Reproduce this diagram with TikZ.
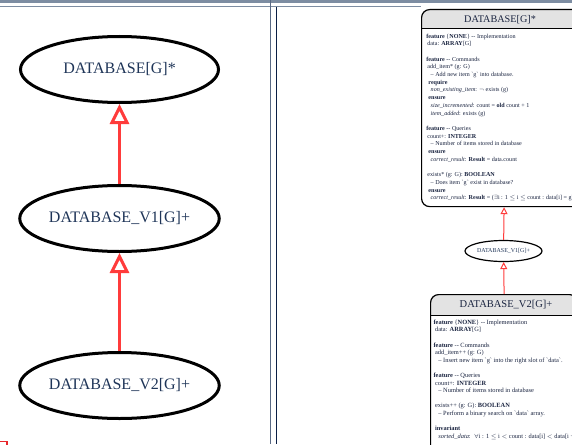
\documentclass[tikz,border=0pt]{standalone}
\usepackage{fontspec}
\setmainfont{Liberation Serif}
\usetikzlibrary{arrows.meta,shapes.geometric}

\definecolor{navy}{HTML}{1F3558}
\definecolor{ink}{HTML}{1A2440}
\definecolor{bar}{HTML}{7D8DA2}
\definecolor{ruleA}{HTML}{5A6A85}
\definecolor{ruleB}{HTML}{0B1F45}
\definecolor{hdr}{HTML}{E3E3E3}
\definecolor{inh}{HTML}{FF3B3B}
\definecolor{cornerred}{HTML}{E8262B}

\newcommand{\bqt}{\textasciigrave}

\tikzset{
  bigclass/.style={ellipse, draw=black, line width=3pt, minimum width=198pt,
    minimum height=66pt, inner sep=0pt, font=\fontsize{16}{19}\selectfont, text=navy},
  smallclass/.style={ellipse, draw=black, line width=1.2pt, minimum width=77pt,
    minimum height=21pt, inner sep=0pt, font=\fontsize{6}{7}\selectfont, text=navy},
  bigherit/.style={draw=inh, line width=3pt, -{Triangle[open, length=20pt, width=19pt]}},
  smallherit/.style={draw=inh, line width=1pt, -{Triangle[open, length=7pt, width=7pt]}},
  classbox/.style={draw=black, line width=1.2pt, rounded corners=8pt, inner sep=0pt,
    anchor=north west},
  boxtitle/.style={text=ink, inner sep=0pt},
  boxbody/.style={anchor=north west, align=left, inner sep=0pt, text=ink},
}

\begin{document}
\begin{tikzpicture}[x=1pt, y=-1pt]
\useasboundingbox (0,0) rectangle (572,444);
\clip (0,0) rectangle (572,444);

% window frame: top band, rule and the double splitter
\fill[bar] (0,0) rectangle (572,2.7);
\draw[bar, line width=1.1pt] (0,6.8) -- (421,6.8);
\draw[ruleA, line width=1pt] (270.5,0) -- (270.5,444);
\draw[ruleB, line width=1.2pt] (276.5,6.8) -- (276.5,444);
\draw[draw=cornerred, line width=1.5pt] (0,441.5) -- (7,441.5) -- (7,446);

% left pane: class bubbles
\node[bigclass] (g)  at (119.5,69.5)  {DATABASE[G]*};
\node[bigclass] (v1) at (119.5,218.5) {DATABASE\_V1[G]+};
\node[bigclass] (v2) at (119.5,385.5) {DATABASE\_V2[G]+};
\draw[bigherit] (v1) -- (g);
\draw[bigherit] (v2) -- (v1);

% right pane: DATABASE[G]* with its features
\fill[hdr] (421,28) [rounded corners=8pt] -- (421,9) -- (590,9) [sharp corners] -- (590,28) -- cycle;
\node[classbox, minimum width=165pt, minimum height=197pt] (box-g) at (421,9) {};
\draw[line width=0.8pt] (421,28) -- (590,28);
\node[boxtitle, font=\fontsize{10.2}{12}\selectfont] (g-title) at (500,20) {DATABASE[G]*};
\node[boxbody, font=\fontsize{6.1}{7.7}\selectfont] (g-body) at (426.2,33.6) {%
\textbf{feature} \{\textbf{NONE}\} -{}- Implementation\\
\hspace*{1pt}data: \textbf{ARRAY}[G]\\[7.7pt]
\textbf{feature} -{}- Commands\\
\hspace*{1pt}add\_item* (g: G)\\
\hspace*{4.3pt}-- Add new item \bqt g\bqt{} into database.\\
\hspace*{2pt}\textbf{require}\\
\hspace*{4.3pt}\textit{non\_existing\_item}: $\neg$ exists (g)\\
\hspace*{2pt}\textbf{ensure}\\
\hspace*{4.3pt}\textit{size\_incremented}: count = \textbf{old} count + 1\\
\hspace*{4.3pt}\textit{item\_added}: exists (g)\\[7.7pt]
\textbf{feature} -{}- Queries\\
\hspace*{1pt}count+: \textbf{INTEGER}\\
\hspace*{4.3pt}-- Number of items stored in database\\
\hspace*{2pt}\textbf{ensure}\\
\hspace*{4.3pt}\textit{correct\_result}: \textbf{Result} = data.count\\[7.7pt]
\hspace*{1pt}exists* (g: G): \textbf{BOOLEAN}\\
\hspace*{4.3pt}-- Does item \bqt g\bqt{} exist in database?\\
\hspace*{2pt}\textbf{ensure}\\
\hspace*{4.3pt}\textit{correct\_result}: \textbf{Result} = ($\exists$i : 1 $\leq$ i $\leq$ count : data[i] = g)};

% right pane: DATABASE_V1[G]+ bubble
\node[smallclass] (v1r) at (503.5,251) {DATABASE\_V1[G]+};

% right pane: DATABASE_V2[G]+ with its features
\fill[hdr] (430,315) [rounded corners=8pt] -- (430,294) -- (590,294) [sharp corners] -- (590,315) -- cycle;
\node[classbox, minimum width=147pt, minimum height=170pt] (box-v2) at (430,294) {};
\draw[line width=0.8pt] (430,315) -- (590,315);
\node[boxtitle, font=\fontsize{10.5}{12.5}\selectfont] (v2-title) at (506,305) {DATABASE\_V2[G]+};
\node[boxbody, font=\fontsize{6.4}{7.6}\selectfont] (v2-body) at (433.4,319.5) {%
\textbf{feature} \{\textbf{NONE}\} -{}- Implementation\\
\hspace*{1.5pt}data: \textbf{ARRAY}[G]\\[7.6pt]
\textbf{feature} -{}- Commands\\
\hspace*{1.5pt}add\_item++ (g: G)\\
\hspace*{4.8pt}-- Insert new item \bqt g\bqt{} into the right slot of \bqt data\bqt.\\[7.6pt]
\textbf{feature} -{}- Queries\\
\hspace*{1.5pt}count+: \textbf{INTEGER}\\
\hspace*{4.8pt}-- Number of items stored in database\\[7.6pt]
\hspace*{1.5pt}exists++ (g: G): \textbf{BOOLEAN}\\
\hspace*{4.8pt}-- Perform a binary search on \bqt data\bqt{} array.\\[7.6pt]
\hspace*{1.5pt}\textbf{invariant}\\
\hspace*{4.8pt}\textit{sorted\_data}: \ $\forall$i : 1 $\leq$ i $<$ count : data[i] $<$ data[i + 1]};

\draw[smallherit] (v1r) -- (box-g.south);
\draw[smallherit] (box-v2.north) -- (v1r);
\end{tikzpicture}
\end{document}
